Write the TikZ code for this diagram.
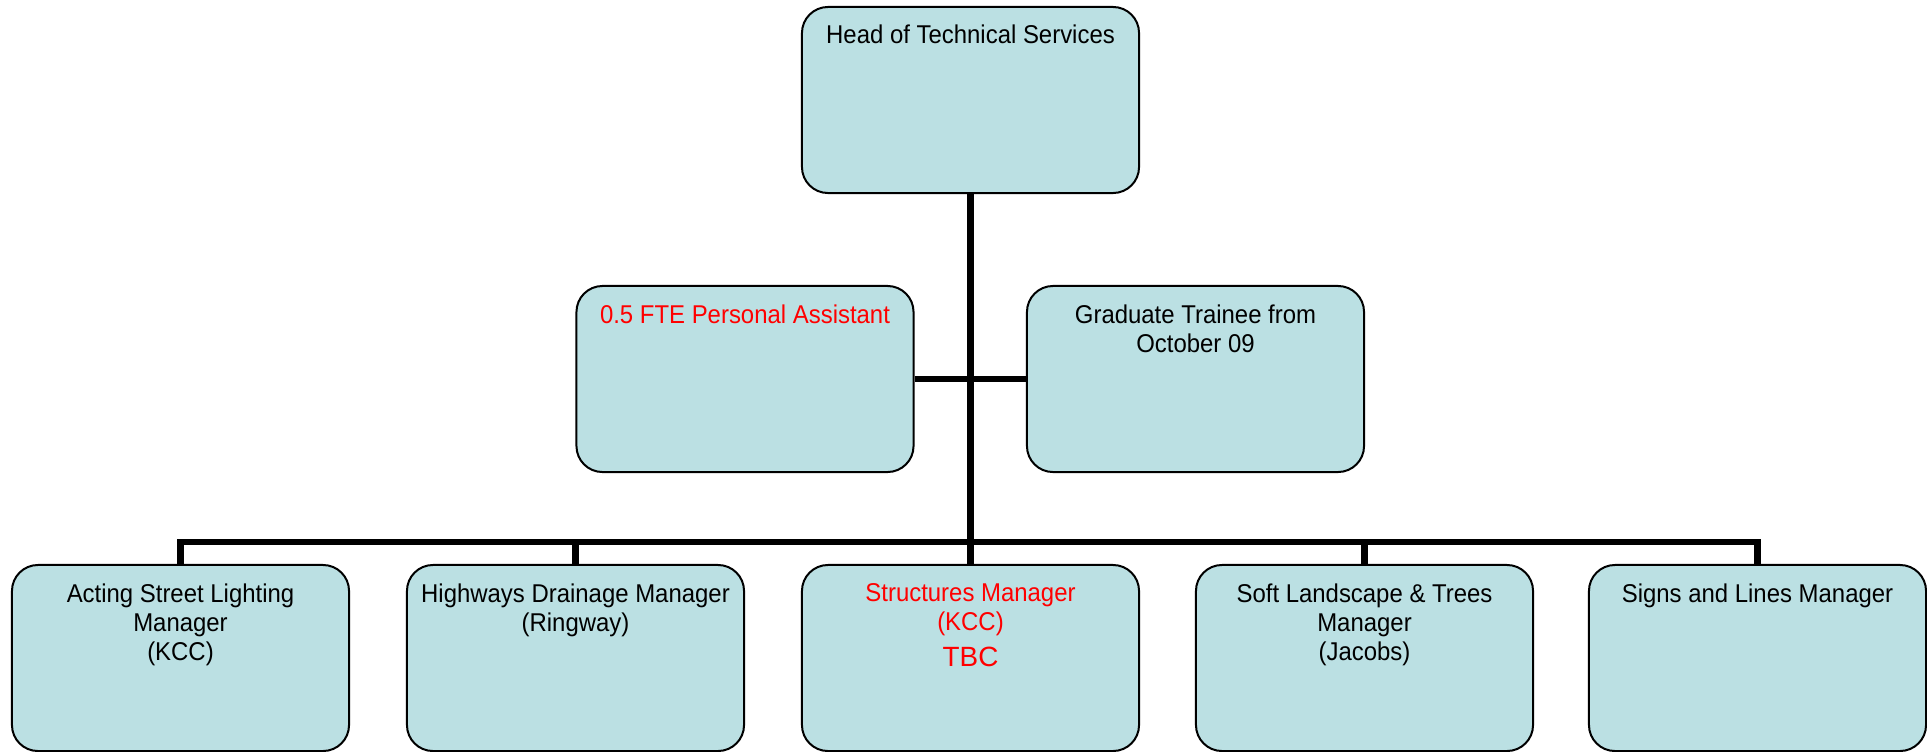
\documentclass[tikz,border=0pt]{standalone}
\usepackage{fontspec}
\setmainfont{Liberation Sans}[FakeStretch=0.93]
\newfontfamily\tbcfont{Liberation Sans}
\definecolor{boxfill}{RGB}{187,224,227}
\definecolor{txtred}{RGB}{255,0,0}
\begin{document}
\begin{tikzpicture}[x=0.025cm,y=-0.025cm,
  orgbox/.style={draw=black, line width=0.05cm, fill=boxfill, rounded corners=0.65cm,
    minimum width=8.425cm, minimum height=4.65cm, inner sep=0pt},
  orgtext/.style={anchor=north, inner sep=0pt, align=center,
    font=\fontsize{18.3}{20.6}\selectfont},
  conn/.style={line width=0.17cm, draw=black, line join=miter}]
\useasboundingbox (0,0) rectangle (1927,751);
% boxes
\node[orgbox] (top) at (970.5,100) {};
\node[orgbox] (pa) at (745,379) {};
\node[orgbox] (grad) at (1195.5,379) {};
\node[orgbox] (s1) at (180.5,658) {};
\node[orgbox] (s2) at (575.5,658) {};
\node[orgbox] (s3) at (970.5,658) {};
\node[orgbox] (s4) at (1364.5,658) {};
\node[orgbox] (s5) at (1757.5,658) {};
% connectors
\coordinate (bar) at (970.5,542);
\draw[conn] (top.south) -- (s3.north);
\draw[conn] (pa.east) -- (grad.west);
\draw[conn] (s1.north) |- (bar) -| (s5.north);
\draw[conn] (s2.north) -- (s2.north |- bar);
\draw[conn] (s4.north) -- (s4.north |- bar);
% texts
\node[orgtext] (ttop) at ([yshift=-0.46cm]top.north) {Head of Technical Services};
\node[orgtext, text=txtred] (tpa) at ([yshift=-0.48cm]pa.north) {0.5 FTE Personal Assistant};
\node[orgtext] (tgrad) at ([yshift=-0.48cm]grad.north) {Graduate Trainee from\\October 09};
\node[orgtext] (ts1) at ([yshift=-0.48cm]s1.north) {Acting Street Lighting\\Manager\\(KCC)};
\node[orgtext] (ts2) at ([yshift=-0.48cm]s2.north) {Highways Drainage Manager\\(Ringway)};
\node[orgtext, text=txtred] (ts3) at ([yshift=-0.48cm]s3.north) {Structures Manager\\(KCC)\\[0.18cm]{\tbcfont\fontsize{19.8}{20.6}\selectfont TBC}};
\node[orgtext] (ts4) at ([yshift=-0.48cm]s4.north) {Soft Landscape \& Trees\\Manager\\(Jacobs)};
\node[orgtext] (ts5) at ([yshift=-0.48cm]s5.north) {Signs and Lines Manager};
\end{tikzpicture}
\end{document}
